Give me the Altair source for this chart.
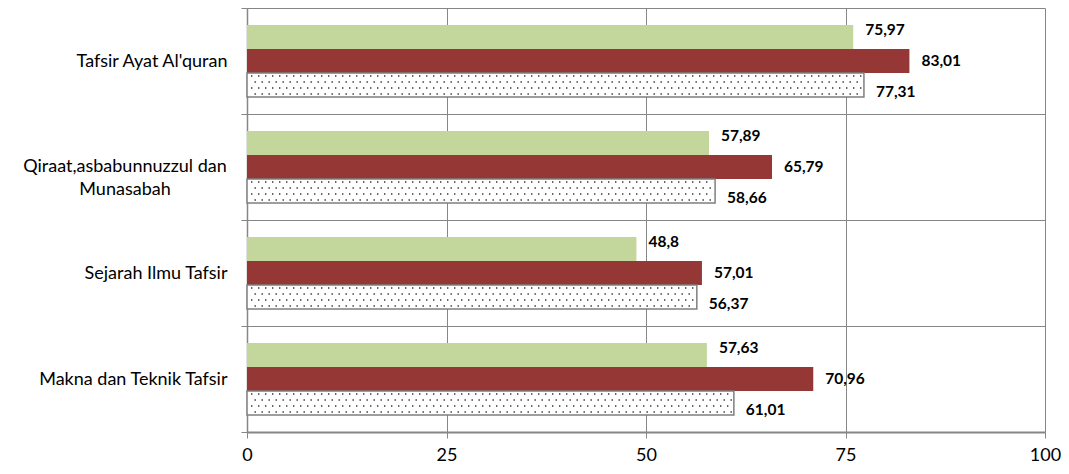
import altair as alt
import pandas as pd

categories = ["Tafsir Ayat Al'quran", "Qiraat,asbabunnuzzul dan Munasabah",
              "Sejarah Ilmu Tafsir", "Makna dan Teknik Tafsir"]
series = ["Seri 1", "Seri 2", "Seri 3"]
values_s1 = [75.97, 57.89, 48.8, 57.63]
values_s2 = [83.01, 65.79, 57.01, 70.96]
values_s3 = [77.31, 58.66, 56.37, 61.01]
x_ticks = [0, 25, 50, 75, 100]

GREEN = "#c3d69b"
RED = "#953735"
GRAY = "#868686"
FONT = "Lato"
WRAPPED = "Qiraat,asbabunnuzzul dan Munasabah"

rows = []
for s, vals in zip(series, [values_s1, values_s2, values_s3]):
    for c, v in zip(categories, vals):
        rows.append({"category": c, "series": s, "value": v})
df = pd.DataFrame(rows)

y_enc = alt.Y(
    "category:N", sort=categories, title=None,
    scale=alt.Scale(paddingInner=0, paddingOuter=0),
    axis=alt.Axis(
        tickBand="extent", grid=True, gridColor=GRAY, gridWidth=1,
        domainColor=GRAY, domainWidth=1.5, tickColor=GRAY, tickSize=6, tickWidth=1,
        labelFont=FONT, labelFontSize=18, labelColor="#000000", labelPadding=14,
        labelLimit=400,
        labelExpr=f"datum.label == '{WRAPPED}' ? '' : datum.label",
    ),
)
x_enc = alt.X(
    "value:Q", title=None,
    scale=alt.Scale(domain=[0, 100], nice=False, zero=True),
    axis=alt.Axis(
        values=x_ticks, grid=True, gridColor=GRAY, gridWidth=1,
        domainColor=GRAY, domainWidth=2, tickColor=GRAY, tickSize=6, tickWidth=1,
        labelFont=FONT, labelFontSize=18, labelColor="#000000", labelPadding=8,
        labelFlush=False,
    ),
)
yoff_bar = alt.YOffset(
    "series:N", sort=series,
    scale=alt.Scale(domain=series, paddingInner=0, paddingOuter=0.708),
)

base = alt.Chart(df)

colored = base.transform_filter("datum.series != 'Seri 3'").mark_bar().encode(
    x=x_enc, y=y_enc, yOffset=yoff_bar,
    color=alt.Color("series:N", scale=alt.Scale(domain=series[:2], range=[GREEN, RED]), legend=None),
)

dotted = base.transform_filter("datum.series == 'Seri 3'").mark_bar(
    fill="white", stroke="#7f7f7f", strokeWidth=1.5
).encode(x=x_enc, y=y_enc, yOffset=yoff_bar)

slots = [str(i) for i in range(16)]
yoff_dot = alt.YOffset(
    "slot:N", sort=slots,
    scale=alt.Scale(domain=slots, paddingInner=0, paddingOuter=0.833),
)
dots_base = base.transform_filter("datum.series == 'Seri 3'").transform_calculate(
    r="[0, 1, 2, 3]"
).transform_flatten(["r"]).transform_calculate(
    slot="toString(10 + datum.r)", x0="0.25", x1="datum.value - 0.25"
)
dots_even = dots_base.transform_filter("datum.r % 2 == 0").mark_rule(
    color="#333333", strokeWidth=1.4, strokeDash=[1.4, 5.6], strokeDashOffset=-2
).encode(x=alt.X("x0:Q", scale=alt.Scale(domain=[0, 100])), x2="x1:Q", y=y_enc, yOffset=yoff_dot)
dots_odd = dots_base.transform_filter("datum.r % 2 == 1").mark_rule(
    color="#333333", strokeWidth=1.4, strokeDash=[1.4, 5.6], strokeDashOffset=-5.5
).encode(x=alt.X("x0:Q", scale=alt.Scale(domain=[0, 100])), x2="x1:Q", y=y_enc, yOffset=yoff_dot)

labels = base.transform_calculate(
    label="replace(toString(datum.value), '.', ',')"
).mark_text(
    align="left", baseline="middle", dx=12, font=FONT, fontSize=15.5,
    fontWeight="bold", color="#000000"
).encode(x=x_enc, y=y_enc, yOffset=yoff_bar, text="label:N")

wrapped_label = base.transform_filter(
    f"datum.category == '{WRAPPED}' && datum.series == 'Seri 1'"
).transform_calculate(
    txt="replace(datum.category, ' Munasabah', '\\nMunasabah')"
).mark_text(
    align="center", baseline="middle", lineBreak="\n", lineHeight=23,
    font=FONT, fontSize=18, color="#000000"
).encode(x=alt.value(-122), y=y_enc, text="txt:N")

chart = alt.layer(colored, dotted, dots_even, dots_odd, labels, wrapped_label).resolve_scale(
    yOffset="independent"
).properties(
    width=798, height=424,
    autosize=alt.AutoSizeParams(type="none"),
    padding={"left": 239, "top": 0, "right": 16, "bottom": 40},
).configure_view(stroke=None)

chart.save("out.html", embed_options={"renderer": "svg", "actions": False})
